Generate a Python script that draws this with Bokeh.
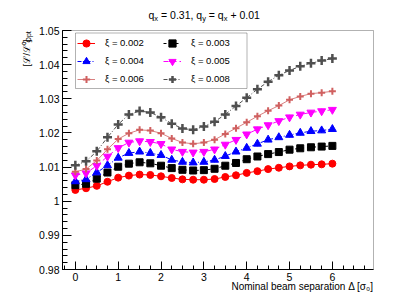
import numpy as np
from bokeh.plotting import figure
from bokeh.models import (ColumnDataSource, Legend, LegendItem, Label, BoxAnnotation,
                          FixedTicker, CustomJSTickFormatter, Range1d)
from bokeh.embed import file_html
from bokeh.resources import INLINE

# ---------------- data ----------------
separation = [0.0, 0.25, 0.5, 0.75, 1.0, 1.25, 1.5, 1.75, 2.0, 2.25, 2.5, 2.75, 3.0,
              3.25, 3.5, 3.75, 4.0, 4.25, 4.5, 4.75, 5.0, 5.25, 5.5, 5.75, 6.0]

xi_labels = ["ξ = 0.002", "ξ = 0.003", "ξ = 0.004", "ξ = 0.005", "ξ = 0.006", "ξ = 0.008"]

lumi_xi_0002 = [1.0033, 1.0038, 1.0045, 1.0057, 1.0069, 1.0075, 1.0078, 1.0077, 1.0073,
                1.0068, 1.0064, 1.0063, 1.0063, 1.0065, 1.0071, 1.0076, 1.0083, 1.0088,
                1.0094, 1.0098, 1.0102, 1.0105, 1.0107, 1.0108, 1.0110]
lumi_xi_0003 = [1.0047, 1.0051, 1.0066, 1.0084, 1.0101, 1.0110, 1.0114, 1.0111, 1.0104,
                1.0097, 1.0092, 1.0090, 1.0091, 1.0095, 1.0104, 1.0112, 1.0123, 1.0131,
                1.0138, 1.0144, 1.0151, 1.0155, 1.0158, 1.0160, 1.0162]
lumi_xi_0004 = [1.0058, 1.0064, 1.0084, 1.0105, 1.0127, 1.0141, 1.0145, 1.0141, 1.0135,
                1.0121, 1.0115, 1.0113, 1.0115, 1.0121, 1.0132, 1.0145, 1.0156, 1.0168,
                1.0180, 1.0187, 1.0194, 1.0200, 1.0205, 1.0207, 1.0211]
lumi_xi_0005 = [1.0076, 1.0082, 1.0104, 1.0131, 1.0156, 1.0172, 1.0176, 1.0174, 1.0168,
                1.0152, 1.0145, 1.0143, 1.0145, 1.0152, 1.0166, 1.0180, 1.0196, 1.0211,
                1.0223, 1.0235, 1.0246, 1.0254, 1.0260, 1.0264, 1.0268]
lumi_xi_0006 = [1.0086, 1.0094, 1.0119, 1.0152, 1.0182, 1.0199, 1.0209, 1.0207, 1.0199,
                1.0184, 1.0172, 1.0168, 1.0172, 1.0180, 1.0197, 1.0214, 1.0231, 1.0249,
                1.0265, 1.0280, 1.0297, 1.0307, 1.0315, 1.0318, 1.0322]
lumi_xi_0008 = [1.0105, 1.0117, 1.0146, 1.0187, 1.0225, 1.0254, 1.0264, 1.0260, 1.0246,
                1.0227, 1.0213, 1.0209, 1.0219, 1.0233, 1.0254, 1.0279, 1.0303, 1.0328,
                1.0350, 1.0369, 1.0383, 1.0395, 1.0404, 1.0412, 1.0418]

x_major_ticks = [0, 1, 2, 3, 4, 5, 6]
x_minor_ticks = [-0.25, 0.25, 0.5, 0.75, 1.25, 1.5, 1.75, 2.25, 2.5, 2.75, 3.25, 3.5, 3.75,
                 4.25, 4.5, 4.75, 5.25, 5.5, 5.75, 6.25, 6.5, 6.75]
y_major_ticks = [0.98, 0.99, 1.00, 1.01, 1.02, 1.03, 1.04, 1.05]
y_minor_ticks = [round(0.98 + 0.002 * i, 4) for i in range(36)]

series = [lumi_xi_0002, lumi_xi_0003, lumi_xi_0004, lumi_xi_0005, lumi_xi_0006, lumi_xi_0008]

# ---------------- layout ----------------
W, H = 407, 292                       # canvas size
BOX_L, BOX_R, BOX_T, BOX_B = 62, 373, 30, 269   # plot box in canvas px (y down)
X_LO, X_HI = -0.3, 6.96
Y_LO, Y_HI = 0.98, 1.05
kx = (BOX_R - BOX_L) / (X_HI - X_LO)
ky = (BOX_B - BOX_T) / (Y_HI - Y_LO)

FONT = "Liberation Sans"
styles = [
    dict(color="#ff0000", marker="circle", size=7, lw=1, dash="solid", lalpha=1.0),
    dict(color="#000000", marker="square", size=7, lw=1, dash="3 3", lalpha=1.0),
    dict(color="#0000ff", marker="triangle", size=8, lw=1, dash="4 2 1 2", lalpha=1.0),
    dict(color="#ff00ff", marker="inverted_triangle", size=8, lw=1, dash="5 3", lalpha=1.0),
    dict(color="#d06060", marker="cross", size=7, lw=2, dash="solid", lalpha=0.8),
    dict(color="#4f4f4f", marker="cross", size=9, lw=2.5, dash="4 2 1 2", lalpha=1.0),
]

p = figure(width=W, height=H, output_backend="svg", toolbar_location=None, tools="",
           x_range=Range1d(X_LO - BOX_L / kx, X_HI + (W - BOX_R) / kx),
           y_range=Range1d(Y_LO - (H - BOX_B) / ky, Y_HI + BOX_T / ky),
           min_border=0, min_border_left=0, min_border_right=0,
           min_border_top=0, min_border_bottom=0)
p.title.visible = False
p.xgrid.grid_line_color = None
p.ygrid.grid_line_color = None
p.outline_line_color = None
p.background_fill_color = "white"
p.border_fill_color = "white"

fmt = CustomJSTickFormatter(code="return parseFloat(tick.toFixed(4)).toString();")
xa, ya = p.xaxis[0], p.yaxis[0]
xa.ticker = FixedTicker(ticks=x_major_ticks, minor_ticks=x_minor_ticks)
ya.ticker = FixedTicker(ticks=y_major_ticks, minor_ticks=y_minor_ticks)
xa.fixed_location = Y_LO
ya.fixed_location = X_LO
xa.bounds = (X_LO, X_HI)
ya.bounds = (Y_LO, Y_HI)
for ax, mj, mn in ((xa, 8, 4), (ya, 9, 5)):
    ax.formatter = fmt
    ax.axis_line_color = "black"
    ax.major_tick_line_color = "black"
    ax.minor_tick_line_color = "black"
    ax.major_tick_out = 0
    ax.minor_tick_out = 0
    ax.major_tick_in = mj
    ax.minor_tick_in = mn
    ax.major_label_text_font = FONT
    ax.major_label_text_font_size = "10.5px"
    ax.major_label_text_color = "black"
    ax.major_label_standoff = 3

rends = []
for ys, st in zip(series, styles):
    src = ColumnDataSource(dict(x=separation, y=ys))
    ln = p.line("x", "y", source=src, line_color=st["color"], line_dash=st["dash"],
                line_width=1, line_alpha=st["lalpha"])
    eb = p.scatter("x", "y", source=src, marker="dash", angle=np.pi / 2,
                   size=st["size"] * 0.6, line_color=st["color"], line_width=1)
    mk = p.scatter("x", "y", source=src, marker=st["marker"], size=st["size"],
                   fill_color=st["color"], line_color=st["color"], line_width=st["lw"])
    rends.append([ln, eb, mk])

# plot box outline
p.add_layout(BoxAnnotation(left=X_LO, right=X_HI, bottom=Y_LO, top=Y_HI,
                           fill_alpha=0.0, line_color="black", line_width=1))

# legend frame (canvas px, y measured from bottom)
p.add_layout(BoxAnnotation(left=75, right=246.5, top=H - 32.5, bottom=H - 88,
                           left_units="screen", right_units="screen",
                           top_units="screen", bottom_units="screen",
                           fill_color="white", fill_alpha=1.0,
                           line_color="black", line_width=1))

def make_legend(idx, loc):
    items = [LegendItem(label=xi_labels[i], renderers=rends[i]) for i in idx]
    lg = Legend(items=items, location=loc, orientation="vertical",
                border_line_color=None, background_fill_alpha=0.0,
                padding=0, margin=0, spacing=0,
                glyph_width=18, glyph_height=18, label_height=18,
                label_standoff=10, label_text_font=FONT,
                label_text_font_size="9.5px", label_text_color="black")
    p.add_layout(lg)

make_legend([0, 2, 4], (77, H - 87.7))
make_legend([1, 3, 5], (163, H - 87.7))

# axis titles
p.add_layout(Label(x=373, y=H - 286, x_units="screen", y_units="screen",
                   text="Nominal beam separation Δ [σ₀]", text_align="right",
                   text_baseline="middle", text_font=FONT, text_font_size="10px",
                   text_color="black"))
p.add_layout(Label(x=26, y=H - 66, x_units="screen", y_units="screen", angle=np.pi / 2,
                   text="[ℒ/ℒ⁰]", text_align="left", text_baseline="middle",
                   text_font=FONT, text_font_size="9.5px", text_color="black"))
p.add_layout(Label(x=28, y=H - 42, x_units="screen", y_units="screen", angle=np.pi / 2,
                   text="Opt", text_align="left", text_baseline="middle",
                   text_font=FONT, text_font_size="7px", text_color="black"))

# title with subscripts
title_parts = [("q", 148, 14, "10.5px"), ("x", 153.8, 17.5, "7.5px"),
               ("= 0.31, q", 160.5, 14, "10.5px"), ("y", 201.7, 17.5, "7.5px"),
               ("= q", 208.3, 14, "10.5px"), ("x", 223.2, 17.5, "7.5px"),
               ("+ 0.01", 229.9, 14, "10.5px")]
for t, tx, ty, fs in title_parts:
    p.add_layout(Label(x=tx, y=H - ty, x_units="screen", y_units="screen", text=t,
                       text_align="left", text_baseline="alphabetic",
                       text_font=FONT, text_font_size=fs, text_color="black"))

open("out.html", "w").write(file_html(p, INLINE))
